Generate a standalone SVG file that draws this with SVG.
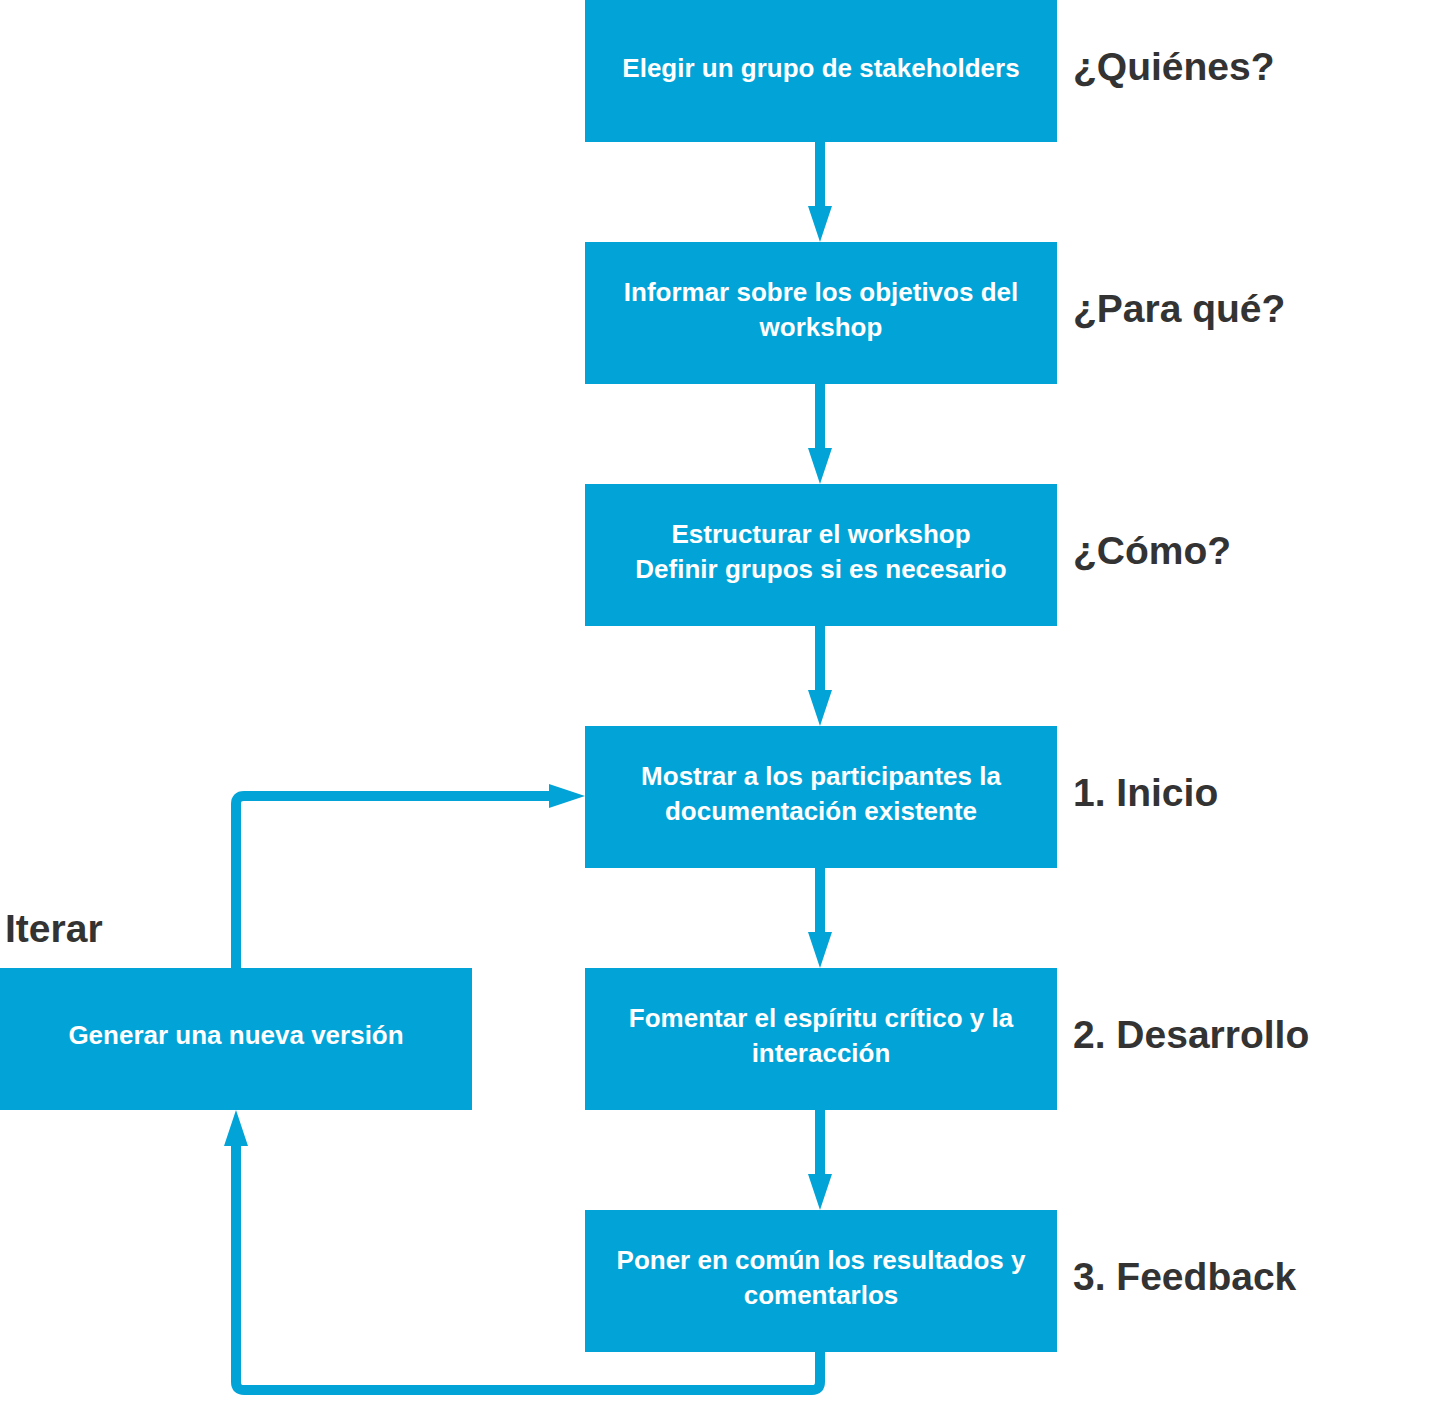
<svg xmlns="http://www.w3.org/2000/svg" width="1449" height="1410" viewBox="0 0 1449 1410">
<style>
.b{fill:#02a4d7}
.t{font-family:"Liberation Sans",Arial,sans-serif;font-weight:bold;font-size:26px;fill:#fff;text-anchor:middle}
.l{font-family:"Liberation Sans",Arial,sans-serif;font-weight:bold;font-size:39px;fill:#333}
.c{fill:none;stroke:#02a4d7;stroke-width:10;stroke-linejoin:round}
</style>
<defs><marker id="a" markerWidth="24" markerHeight="36" refX="0" refY="18" orient="auto" markerUnits="userSpaceOnUse"><path d="M0,6 L34,18 L0,30 Z" fill="#02a4d7"/></marker></defs>
<rect width="1449" height="1410" fill="#fff"/>
<g id="connectors">
<path class="c" d="M820,142 V210"/><path d="M808,206 L832,206 L820,242 Z" fill="#02a4d7"/>
<path class="c" d="M820,384 V452"/><path d="M808,448 L832,448 L820,484 Z" fill="#02a4d7"/>
<path class="c" d="M820,626 V694"/><path d="M808,690 L832,690 L820,726 Z" fill="#02a4d7"/>
<path class="c" d="M820,868 V936"/><path d="M808,932 L832,932 L820,968 Z" fill="#02a4d7"/>
<path class="c" d="M820,1110 V1178"/><path d="M808,1174 L832,1174 L820,1210 Z" fill="#02a4d7"/>
<path class="c" d="M820,1352 V1382 Q820,1390 812,1390 H244 Q236,1390 236,1382 V1140"/><path d="M224,1146 L248,1146 L236,1110 Z" fill="#02a4d7"/>
<path class="c" d="M236,968 V804 Q236,796 244,796 H553"/><path d="M549,784 L549,808 L585,796 Z" fill="#02a4d7"/>
</g>
<g id="n1"><rect class="b" x="585" y="0" width="472" height="142"/><text class="t" x="821" y="77">Elegir un grupo de stakeholders</text></g>
<g id="n2"><rect class="b" x="585" y="242" width="472" height="142"/><text class="t" x="821" y="301">Informar sobre los objetivos del</text><text class="t" x="821" y="336">workshop</text></g>
<g id="n3"><rect class="b" x="585" y="484" width="472" height="142"/><text class="t" x="821" y="543">Estructurar el workshop</text><text class="t" x="821" y="578">Definir grupos si es necesario</text></g>
<g id="n4"><rect class="b" x="585" y="726" width="472" height="142"/><text class="t" x="821" y="785">Mostrar a los participantes la</text><text class="t" x="821" y="820">documentación existente</text></g>
<g id="n5"><rect class="b" x="585" y="968" width="472" height="142"/><text class="t" x="821" y="1027">Fomentar el espíritu crítico y la</text><text class="t" x="821" y="1062">interacción</text></g>
<g id="n6"><rect class="b" x="585" y="1210" width="472" height="142"/><text class="t" x="821" y="1269">Poner en común los resultados y</text><text class="t" x="821" y="1304">comentarlos</text></g>
<g id="n7"><rect class="b" x="0" y="968" width="472" height="142"/><text class="t" x="236" y="1044">Generar una nueva versión</text></g>
<g id="labels">
<text class="l" x="1073" y="80">¿Quiénes?</text>
<text class="l" x="1073" y="322">¿Para qué?</text>
<text class="l" x="1073" y="564">¿Cómo?</text>
<text class="l" x="1073" y="806">1.  Inicio</text>
<text class="l" x="1073" y="1048">2. Desarrollo</text>
<text class="l" x="1073" y="1290">3. Feedback</text>
<text class="l" x="5" y="942">Iterar</text>
</g>
</svg>
